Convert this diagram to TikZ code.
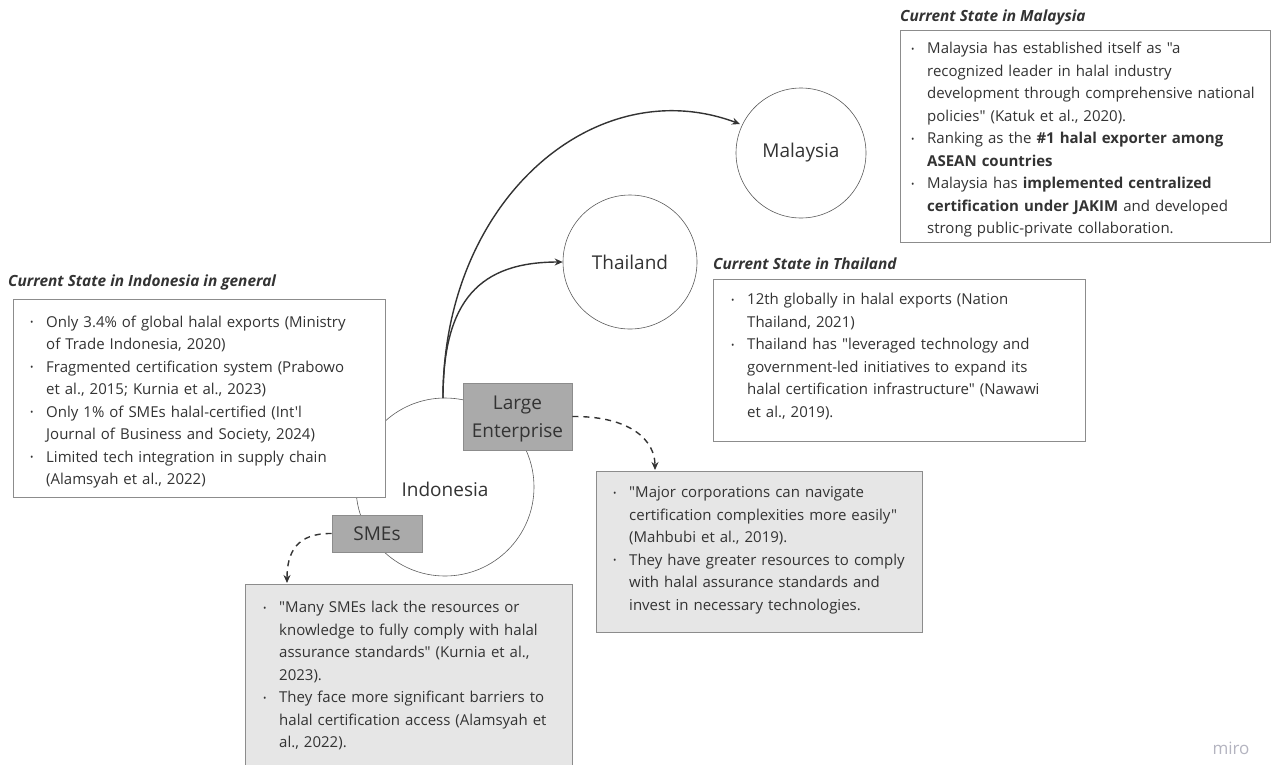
\documentclass[tikz,border=0pt]{standalone}
\usepackage{fontspec}
\setmainfont{Open Sans}[Ligatures=TeXOff]
\usetikzlibrary{arrows.meta}
\definecolor{txt}{HTML}{333333}
\definecolor{boxline}{HTML}{8C8C8C}
\definecolor{darkfill}{HTML}{AAAAAA}
\definecolor{lightfill}{HTML}{E6E6E6}
\definecolor{mirogray}{HTML}{B4B4C0}
\newcommand{\bmark}{\makebox[15pt][l]{\hspace*{-1pt}\raisebox{1.5pt}{\fontsize{9}{9}\selectfont\textbullet}}}
\newcommand{\bfirst}{\hangindent=15pt\hangafter=1\bmark}
\newcommand{\bitem}{\par\noindent\hangindent=15pt\hangafter=1\bmark}
\newcommand{\q}{\char34\relax}
\newcommand{\ap}{\char39\relax}
\tikzset{
  plainbox/.style={draw=boxline, line width=0.8pt, fill=white, anchor=north west, inner sep=0pt},
  greybox/.style={draw=boxline, line width=0.8pt, fill=lightfill, anchor=north west, inner sep=0pt},
  txtblk/.style={anchor=north west, inner sep=0pt, text width=420pt, align=left, text=txt, font=\fontsize{15}{22.5}\selectfont},
  titletxt/.style={anchor=base west, inner sep=0pt, text=txt, font=\fontsize{15.4}{18}\selectfont\bfseries\itshape},
  country/.style={circle, draw=txt!80, line width=0.6pt, fill=white, inner sep=0pt, text=txt, font=\fontsize{19}{22}\selectfont},
  sizebox/.style={draw=boxline, line width=0.8pt, fill=darkfill, inner sep=0pt, text=txt, align=center, font=\fontsize{19}{28.5}\selectfont},
  conn/.style={draw=txt, line width=1.4pt, -{Stealth[length=8pt,width=7pt]}},
  dconn/.style={draw=txt, line width=1.4pt, dash pattern=on 6pt off 5pt, -{Stealth[length=8pt,width=7pt]}}
}
\begin{document}
\begin{tikzpicture}[x=1pt,y=-1pt]
\useasboundingbox (0,0) rectangle (1272,764);

% circles
\node[country, minimum size=178pt] (indo) at (445,487) {};
\node[country, minimum size=130pt] (mal) at (801,153) {Malaysia};
\node[country, minimum size=134pt] (thai) at (630,262) {Thailand};
\node[text=txt, font=\fontsize{19}{22}\selectfont, inner sep=0pt] (indolbl) at (445,489) {Indonesia};

\coordinate (start) at (443,398);
\coordinate (malend) at (740,124);
\coordinate (largeend) at (655,470);
\coordinate (smeend) at (287,583);

% arrows to countries
\draw[conn] (start) .. controls (443,200) and (595,70) .. (malend);
\draw[conn] (start) .. controls (443,300) and (480,262) .. (thai.west);

% Indonesia general box
\node[titletxt] (indtitle) at (8,286) {Current State in Indonesia in general};
\node[plainbox, minimum width=372pt, minimum height=198pt] (indbox) at (13,299) {};
\node[txtblk] (indtxt) at (31,315.8) {%
\bfirst Only 3.4\% of global halal exports (Ministry\newline of Trade Indonesia, 2020)%
\bitem Fragmented certification system (Prabowo\newline et al., 2015; Kurnia et al., 2023)%
\bitem Only 1\% of SMEs halal-certified (Int\ap l\newline Journal of Business and Society, 2024)%
\bitem Limited tech integration in supply chain\newline (Alamsyah et al., 2022)\par};

% Malaysia box
\node[titletxt] (maltitle) at (900,21) {Current State in Malaysia};
\node[plainbox, minimum width=370pt, minimum height=212pt] (malbox) at (900,30) {};
\node[txtblk] (maltxt) at (912,42.3) {%
\bfirst Malaysia has established itself as \q a\newline recognized leader in halal industry\newline development through comprehensive national\newline policies\q{} (Katuk et al., 2020).%
\bitem Ranking as the \textbf{\#1 halal exporter among\newline ASEAN countries}%
\bitem Malaysia has \textbf{implemented centralized\newline certification under JAKIM} and developed\newline strong public-private collaboration.\par};

% Thailand box
\node[titletxt] (thaititle) at (713,269) {Current State in Thailand};
\node[plainbox, minimum width=372pt, minimum height=162pt] (thaibox) at (713,279) {};
\node[txtblk] (thaitxt) at (732,293.3) {%
\bfirst 12th globally in halal exports (Nation\newline Thailand, 2021)%
\bitem Thailand has \q leveraged technology and\newline government-led initiatives to expand its\newline halal certification infrastructure\q{} (Nawawi\newline et al., 2019).\par};

% Large enterprise
\node[sizebox, minimum width=109pt, minimum height=67pt, text depth=-4.5pt] (large) at (517.5,416.5) {Large\\Enterprise};
\node[greybox, minimum width=326pt, minimum height=161pt] (largebox) at (596,471) {};
\node[txtblk] (largetxt) at (614,486.3) {%
\bfirst \q Major corporations can navigate\newline certification complexities more easily\q\newline (Mahbubi et al., 2019).%
\bitem They have greater resources to comply\newline with halal assurance standards and\newline invest in necessary technologies.\par};

% SMEs
\node[sizebox, minimum width=90pt, minimum height=37pt] (sme) at (377,533.5) {SMEs};
\node[greybox, minimum width=327pt, minimum height=200pt] (smebox) at (245,584) {};
\node[txtblk] (smetxt) at (264,601.3) {%
\bfirst \q Many SMEs lack the resources or\newline knowledge to fully comply with halal\newline assurance standards\q{} (Kurnia et al.,\newline 2023).%
\bitem They face more significant barriers to\newline halal certification access (Alamsyah et\newline al., 2022).\par};

% dashed connectors
\draw[dconn] (large.east) .. controls (630,416) and (655,440) .. (largeend);
\draw[dconn] (sme.west) .. controls (297,533) and (287,552) .. (smeend);

% logo
\node[text=mirogray, font=\fontsize{17}{19}\selectfont, inner sep=0pt] (miro) at (1231,748) {miro};
\end{tikzpicture}
\end{document}
